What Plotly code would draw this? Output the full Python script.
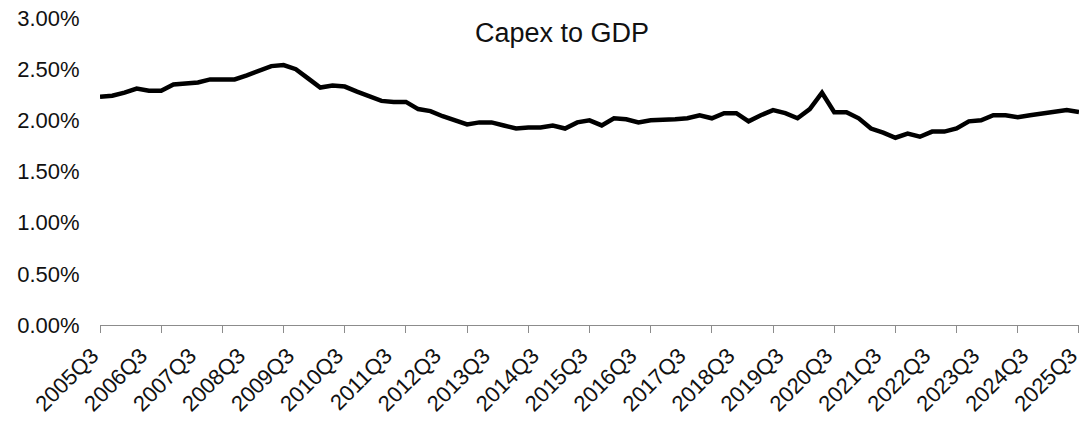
import plotly.graph_objects as go

# Quarterly categories 2005Q3 .. 2025Q3
quarters = [f"{y}Q{q}" for y in range(2005, 2026) for q in (1, 2, 3, 4)]
quarters = quarters[quarters.index("2005Q3"):quarters.index("2025Q3") + 1]

capex_to_gdp = [
    2.23, 2.24, 2.27, 2.31, 2.29, 2.29, 2.35, 2.36, 2.37, 2.40,
    2.40, 2.40, 2.44, 2.49, 2.53, 2.54, 2.50, 2.41, 2.32, 2.34,
    2.33, 2.28, 2.23, 2.19, 2.18, 2.18, 2.11, 2.09, 2.04, 2.00,
    1.96, 1.98, 1.98, 1.95, 1.92, 1.93, 1.93, 1.95, 1.92, 1.98,
    2.00, 1.95, 2.02, 2.01, 1.98, 2.00, 2.00, 2.01, 2.02, 2.05,
    2.02, 2.07, 2.07, 1.99, 2.05, 2.10, 2.07, 2.02, 2.11, 2.27,
    2.08, 2.08, 2.02, 1.92, 1.88, 1.83, 1.87, 1.84, 1.89, 1.89,
    1.92, 1.99, 2.00, 2.05, 2.05, 2.03, 2.05, 2.07, 2.08, 2.10,
    2.08,
]

label_quarters = [q for q in quarters if q.endswith("Q3")]
title_text = "Capex to GDP"

idx = list(range(len(quarters)))
yvals = [v / 100 for v in capex_to_gdp]
n_last = len(quarters) - 1

FONT = "Arial, 'Liberation Sans', sans-serif"
TXT = "#111111"

fig = go.Figure()
fig.add_trace(go.Scatter(
    x=idx, y=yvals, mode="lines",
    line=dict(color="#000000", width=4.5),
    text=quarters, hovertemplate="%{text}: %{y:.2%}<extra></extra>",
    showlegend=False, cliponaxis=False,
))
# invisible trace on second x axis to carry tick marks every 5 categories
fig.add_trace(go.Scatter(x=[0, n_last], y=[None, None], xaxis="x2",
                         showlegend=False, hoverinfo="skip"))

label_pos = [quarters.index(q) for q in label_quarters]

fig.update_layout(
    width=1084, height=422,
    margin=dict(l=100, r=5, t=18, b=97),
    paper_bgcolor="white", plot_bgcolor="white",
    font=dict(family=FONT, size=22, color=TXT),
    xaxis=dict(
        range=[-0.001, n_last + 0.001], automargin=False,
        tickmode="array", tickvals=label_pos, ticktext=label_quarters,
        tickangle=-45, ticks="", showgrid=False, zeroline=False,
        showline=True, linecolor="#8c8c8c", linewidth=1.2,
        tickfont=dict(size=22, color=TXT), ticklabeloverflow="allow",
        ticklabelstandoff=8, ticklabelshift=-8,
    ),
    xaxis2=dict(
        overlaying="x", anchor="y", side="bottom", automargin=False,
        range=[-0.001, n_last + 0.001],
        tickmode="linear", tick0=0, dtick=5,
        ticks="outside", ticklen=7, tickcolor="#8c8c8c", tickwidth=1.2,
        showticklabels=False, showgrid=False, zeroline=False, showline=False,
    ),
    yaxis=dict(
        range=[0, 0.03], tickmode="linear", tick0=0, dtick=0.005,
        tickformat=".2%", showgrid=False, zeroline=False, showline=False,
        ticks="outside", ticklen=15, tickcolor="rgba(0,0,0,0)",
        tickfont=dict(size=22, color=TXT), automargin=False,
    ),
    annotations=[dict(
        text=title_text, xref="paper", yref="paper",
        x=(562 - 100) / 979, y=(325 - 33) / 307,
        xanchor="center", yanchor="middle", showarrow=False,
        font=dict(family=FONT, size=27, color=TXT),
    )],
)

fig.write_html(
    "out.html",
    config={"displayModeBar": False},
    post_script="document.body.style.margin='0';document.body.style.overflow='hidden';",
)
